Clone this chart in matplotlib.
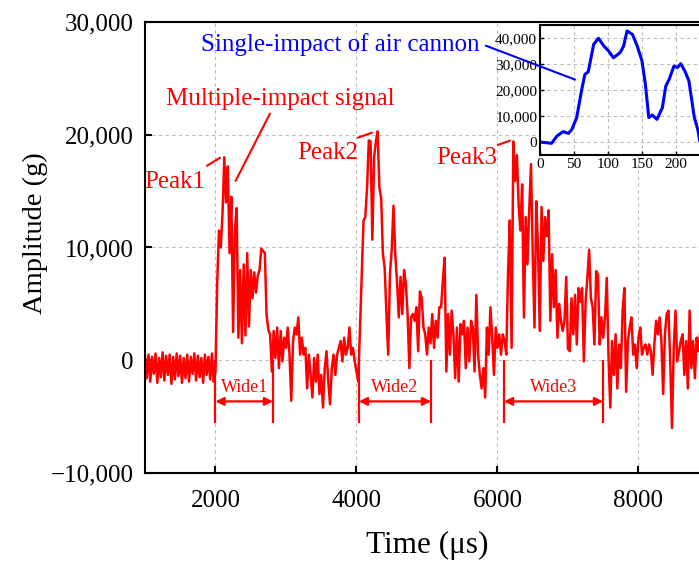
import numpy as np
import matplotlib.pyplot as plt
from matplotlib.ticker import FuncFormatter

plt.rcParams['font.family'] = ['Liberation Serif', 'DejaVu Serif']

# multiple-impact signal, sampled every 25 us
time_us = np.arange(1000, 9001, 25)
amp_g = [
    # 1000 - 1975
    400, -1600, 500, -1900, 300, -1200, 600, -2000,
    200, -1500, 700, -1800, 400, -1300, 500, -2100,
    300, -1700, 600, -1400, 400, -2000, 200, -1600,
    500, -1900, 300, -1200, 600, -1800, 400, -1500,
    200, -2000, 500, -1300, 300, -1700, 600, -1900,
    # 2000 - 2975
    -1000, 7000, 11500, 10000, 13000, 18000, 14000, 17200,
    9500, 14500, 2500, 11500, 13500, 2000, 8000, 1500,
    8500, 2200, 9500, 3000, 8000, 5500, 7800, 6000,
    7500, 8000, 9900, 9700, 9500, 4000, 2700, 2300,
    -1000, 2600, 200, 2900, -700, 2600, -100, 2000,
    # 3000 - 3975
    1100, 2900, 500, -3600, 1700, 2900, 2300, 3800,
    500, 2000, 500, 1100, -2500, 500, -1300, -3300,
    200, -1900, 500, -3000, -1300, -4200, -700, 800,
    -1900, -3900, -700, 500, -1300, 500, 1100, 1700,
    -100, 2000, 500, 1100, 2900, 500, 1100, -100,
    # 4000 - 4975
    -1000, -1900, 2900, 7900, 12400, 12700, 15300, 19500,
    19400, 10700, 18000, 19400, 20300, 15300, 14400, 9400,
    8200, 4100, 500, 7700, 9800, 13700, 9400, 7000,
    3800, 7400, 4100, 8000, 6800, 4100, -700, 3800,
    4100, 3500, 4700, 800, 6100, 5500, 2900, 2300,
    # 5000 - 5975
    500, 2900, 1500, 4100, 1100, 3500, 2000, 4700,
    4700, 7000, 9100, -1000, 4100, 500, 4400, 2300,
    -1600, 2900, -1900, 3200, 2300, 3500, -700, 2900,
    -100, 3500, 2900, -1000, 5800, 500, -1300, -2500,
    -700, -3300, 2900, 500, 4700, 2000, -1300, 2900,
    # 6000 - 6975
    1100, 2300, 500, 2300, 1700, 500, 7900, 12400,
    1100, 19400, 15900, 18200, 13800, 11500, 15600, 3800,
    12700, 8500, 13300, 17400, 9400, 2900, 14100, 10000,
    2600, 13600, 8800, 12700, 11000, 13300, 3500, 9400,
    4700, 8000, 2000, 5000, 3500, 2600, 3500, 7400,
    # 7000 - 7975
    1000, 800, 5500, 2300, 5800, 1400, 6400, 5200,
    6400, -100, 5200, 7300, 9800, 5500, 4700, 1400,
    7900, 7600, 1400, 3800, 2000, 3800, 7300, 200,
    -4200, 1700, -1300, 2300, -2500, 1400, -700, 4400,
    6400, -2800, 1700, 2900, 3800, 500, 1400, -700,
    # 8000 - 9000
    2000, 2900, 500, 1100, 1400, 500, 1400, 800,
    -1300, 1400, 3500, 2300, 3800, 1700, -3000, 2300,
    4100, 4400, -100, -6000, 1100, 4400, -100, 800,
    1700, 2300, -1300, 1700, -2500, 4400, -700, 1700,
    -1600, 2000, 800, 2500, -500, 1800, 300, 2200,
    600,
]

# single-impact signal (inset)
inset_x = [0, 17, 25, 34, 42, 47, 54, 61, 66, 71, 79, 86, 94, 101, 108, 118,
           123, 128, 136, 143, 150, 155, 160, 165, 172, 180, 185, 190, 197,
           202, 207, 213, 219, 227, 232, 235, 240, 250]
inset_y = [0, -500, 2300, 4000, 3300, 4900, 9400, 19600, 26000, 27000, 37600,
           39900, 36900, 35000, 32400, 34400, 36900, 42700, 41400, 36900,
           31200, 22200, 9400, 10400, 8700, 13200, 21500, 24100, 29200, 28600,
           30100, 27300, 23500, 9400, 4900, 400, -2000, -3000]

# pulse widths (start, end) and peak labels
wide_start = [2000, 4035, 6092]
wide_end = [2816, 5057, 7497]
wide_names = ['Wide1', 'Wide2', 'Wide3']
peak_names = ['Peak1', 'Peak2', 'Peak3']
peak_text_xy = [(1425, 15800), (3595, 18400), (5566, 17900)]
peak_lead = [((1879, 17250), (2064, 17960)),
             ((4020, 19740), (4219, 20180)),
             ((6006, 19100), (6176, 19470))]

def comma(v, pos):
    return '{:,.0f}'.format(v).replace('-', '\u2212')

fig = plt.figure(figsize=(6.99, 5.63), dpi=100)
ax = fig.add_axes([0.2074, 0.1599, 0.8069, 0.801])
ax.plot(time_us, amp_g, color='red', lw=1.8)
ax.set_xlim(1000, 9000)
ax.set_ylim(-10000, 30000)
ax.set_xticks([2000, 4000, 6000, 8000])
ax.set_yticks([-10000, 0, 10000, 20000, 30000])
ax.yaxis.set_major_formatter(FuncFormatter(comma))
ax.grid(True, ls=(0, (3, 3)), color='#bbbbbb', lw=0.8)
ax.tick_params(direction='in', length=5, width=1.5, labelsize=18, pad=8)
ax.tick_params(axis='x', pad=12)
for s in ax.spines.values():
    s.set_linewidth(1.5)
ax.set_xlabel('Time (\u03bcs)', fontsize=22.5)
ax.set_ylabel('Amplitude (g)', fontsize=20.5)
ax.xaxis.set_label_coords(0.5, -0.128)
ax.yaxis.set_label_coords(-0.172, 0.532)

# pulse width markers
ax.vlines(wide_start + wide_end, -5600, 0, color='red', lw=1.6)
for a, b, name in zip(wide_start, wide_end, wide_names):
    ax.annotate('', xy=(b, -3650), xytext=(a, -3650),
                arrowprops=dict(arrowstyle='<|-|>', color='red', lw=1.6,
                                shrinkA=0, shrinkB=0, mutation_scale=12))
    ax.text((a + b) / 2, -2450, name, color='red', fontsize=13,
            ha='center', va='center')

# peak labels
for name, xy, (p0, p1) in zip(peak_names, peak_text_xy, peak_lead):
    ax.text(xy[0], xy[1], name, color='red', fontsize=18, ha='center', va='center')
    ax.annotate('', xy=p1, xytext=p0,
                arrowprops=dict(arrowstyle='-', color='red', lw=1.5,
                                shrinkA=0, shrinkB=0))

ax.text(2914, 23200, 'Multiple-impact signal', color='red', fontsize=18,
        ha='center', va='center')
ax.annotate('', xy=(2286, 15910), xytext=(2772, 21870),
            arrowprops=dict(arrowstyle='-', color='red', lw=1.5,
                            shrinkA=0, shrinkB=0))

ax.text(3765, 28000, 'Single-impact of air cannon', color='blue', fontsize=18,
        ha='center', va='center')

# inset
ax_in = fig.add_axes([0.7725, 0.7247, 0.2432, 0.2309])
ax_in.plot(inset_x, inset_y, color='blue', lw=2.2)
ax_in.set_xlim(0, 250)
ax_in.set_ylim(-5000, 45000)
ax_in.set_xticks([0, 50, 100, 150, 200])
ax_in.set_yticks([0, 10000, 20000, 30000, 40000])
ax_in.yaxis.set_major_formatter(FuncFormatter(comma))
ax_in.grid(True, ls=(0, (3, 3)), color='#bbbbbb', lw=0.8)
ax_in.tick_params(direction='in', length=3, width=1, labelsize=11, pad=2)
for s in ax_in.spines.values():
    s.set_linewidth(1.5)
ax_in.annotate('', xy=(51.5, 24000), xytext=(5835, 27900),
               textcoords=ax.transData, annotation_clip=False,
               arrowprops=dict(arrowstyle='-', color='blue', lw=1.5,
                               shrinkA=0, shrinkB=0))

fig.savefig('out.png', dpi=100)
